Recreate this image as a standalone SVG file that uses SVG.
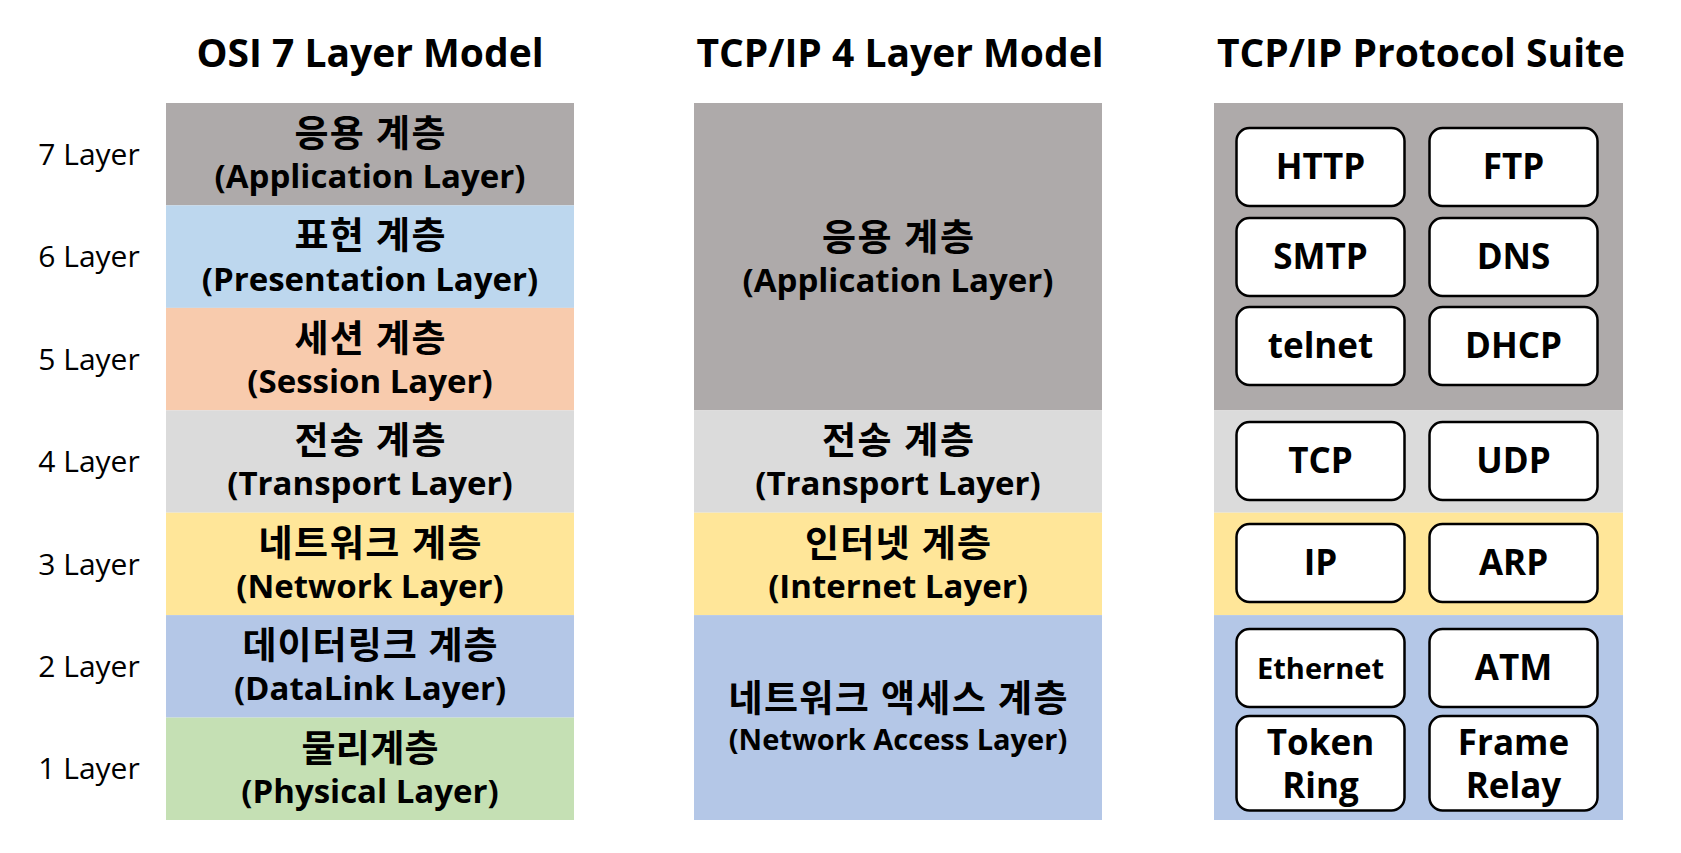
<svg xmlns="http://www.w3.org/2000/svg" width="1681" height="853" viewBox="0 0 1681 853">
<style>
text{font-family:"Open Sans","Noto Sans CJK KR",sans-serif;fill:#000;text-anchor:middle}
.title{font-size:39px;font-weight:700}
.side{font-size:30px;font-weight:400}
.lbl{font-size:33px;font-weight:700}
.ko{font-size:37px;font-weight:700}
.lbls{font-size:29px;font-weight:700}
.box{fill:#fff;stroke:#000;stroke-width:2.5}
.proto{font-size:35px;font-weight:700}
.protos{font-size:29px;font-weight:700}
.c7{fill:#AEAAAA}.c6{fill:#BDD7EE}.c5{fill:#F8CBAD}.c4{fill:#DBDBDB}.c3{fill:#FFE699}.c2{fill:#B4C7E7}.c1{fill:#C5E0B4}
</style>
<rect width="1681" height="853" fill="#fff"/>
<g id="titles">
<text class="title" x="370" y="67">OSI 7 Layer Model</text>
<text class="title" x="900" y="67">TCP/IP 4 Layer Model</text>
<text class="title" x="1421" y="67">TCP/IP Protocol Suite</text>
</g>
<g id="side-labels">
<text class="side" x="89" y="165">7 Layer</text>
<text class="side" x="89" y="267">6 Layer</text>
<text class="side" x="89" y="370">5 Layer</text>
<text class="side" x="89" y="472">4 Layer</text>
<text class="side" x="89" y="575">3 Layer</text>
<text class="side" x="89" y="677">2 Layer</text>
<text class="side" x="89" y="779">1 Layer</text>
</g>
<g id="osi">
<g id="osi7"><rect class="c7" x="166" y="103" width="408" height="102.4"/><text class="ko" x="370" y="147" textLength="151" lengthAdjust="spacing">응용 계층</text><text class="lbl" x="370" y="188">(Application Layer)</text></g>
<g id="osi6"><rect class="c6" x="166" y="205.4" width="408" height="102.5"/><text class="ko" x="370" y="249" textLength="151" lengthAdjust="spacing">표현 계층</text><text class="lbl" x="370" y="291">(Presentation Layer)</text></g>
<g id="osi5"><rect class="c5" x="166" y="307.9" width="408" height="102.4"/><text class="ko" x="370" y="352" textLength="151" lengthAdjust="spacing">세션 계층</text><text class="lbl" x="370" y="393">(Session Layer)</text></g>
<g id="osi4"><rect class="c4" x="166" y="410.3" width="408" height="102.4"/><text class="ko" x="370" y="454" textLength="151" lengthAdjust="spacing">전송 계층</text><text class="lbl" x="370" y="495">(Transport Layer)</text></g>
<g id="osi3"><rect class="c3" x="166" y="512.7" width="408" height="102.4"/><text class="ko" x="370" y="557" textLength="223" lengthAdjust="spacing">네트워크 계층</text><text class="lbl" x="370" y="598">(Network Layer)</text></g>
<g id="osi2"><rect class="c2" x="166" y="615.1" width="408" height="102.5"/><text class="ko" x="370" y="659" textLength="255" lengthAdjust="spacing">데이터링크 계층</text><text class="lbl" x="370" y="700">(DataLink Layer)</text></g>
<g id="osi1"><rect class="c1" x="166" y="717.6" width="408" height="102.4"/><text class="ko" x="370" y="762" textLength="137" lengthAdjust="spacing">물리계층</text><text class="lbl" x="370" y="803">(Physical Layer)</text></g>
</g>
<g id="tcpip">
<g id="tcp-app"><rect class="c7" x="694" y="103" width="408" height="307.3"/><text class="ko" x="898" y="251" textLength="152" lengthAdjust="spacing">응용 계층</text><text class="lbl" x="898" y="292">(Application Layer)</text></g>
<g id="tcp-trans"><rect class="c4" x="694" y="410.3" width="408" height="102.4"/><text class="ko" x="898" y="454" textLength="152" lengthAdjust="spacing">전송 계층</text><text class="lbl" x="898" y="495">(Transport Layer)</text></g>
<g id="tcp-inet"><rect class="c3" x="694" y="512.7" width="408" height="102.4"/><text class="ko" x="898" y="557" textLength="186" lengthAdjust="spacing">인터넷 계층</text><text class="lbl" x="898" y="598">(Internet Layer)</text></g>
<g id="tcp-na"><rect class="c2" x="694" y="615.1" width="408" height="204.9"/><text class="ko" x="898" y="712" textLength="339" lengthAdjust="spacing">네트워크 액세스 계층</text><text class="lbls" x="898" y="750">(Network Access Layer)</text></g>
</g>
<g id="suite">
<g id="suite-bg"><rect class="c7" x="1214" y="103" width="409" height="307.3"/><rect class="c4" x="1214" y="410.3" width="409" height="102.4"/><rect class="c3" x="1214" y="512.7" width="409" height="102.4"/><rect class="c2" x="1214" y="615.1" width="409" height="204.9"/></g>
<g id="http"><rect class="box" x="1236.5" y="128" width="168" height="78" rx="13"/><text class="proto" x="1320.5" y="179">HTTP</text></g>
<g id="ftp"><rect class="box" x="1429.5" y="128" width="168" height="78" rx="13"/><text class="proto" x="1513.5" y="179">FTP</text></g>
<g id="smtp"><rect class="box" x="1236.5" y="218" width="168" height="78" rx="13"/><text class="proto" x="1320.5" y="269">SMTP</text></g>
<g id="dns"><rect class="box" x="1429.5" y="218" width="168" height="78" rx="13"/><text class="proto" x="1513.5" y="269">DNS</text></g>
<g id="telnet"><rect class="box" x="1236.5" y="307" width="168" height="78" rx="13"/><text class="proto" x="1320.5" y="358">telnet</text></g>
<g id="dhcp"><rect class="box" x="1429.5" y="307" width="168" height="78" rx="13"/><text class="proto" x="1513.5" y="358">DHCP</text></g>
<g id="tcp"><rect class="box" x="1236.5" y="422" width="168" height="78" rx="13"/><text class="proto" x="1320.5" y="473">TCP</text></g>
<g id="udp"><rect class="box" x="1429.5" y="422" width="168" height="78" rx="13"/><text class="proto" x="1513.5" y="473">UDP</text></g>
<g id="ip"><rect class="box" x="1236.5" y="524" width="168" height="78" rx="13"/><text class="proto" x="1320.5" y="575">IP</text></g>
<g id="arp"><rect class="box" x="1429.5" y="524" width="168" height="78" rx="13"/><text class="proto" x="1513.5" y="575">ARP</text></g>
<g id="ethernet"><rect class="box" x="1236.5" y="629" width="168" height="78" rx="13"/><text class="protos" x="1320.5" y="679">Ethernet</text></g>
<g id="atm"><rect class="box" x="1429.5" y="629" width="168" height="78" rx="13"/><text class="proto" x="1513.5" y="680">ATM</text></g>
<g id="tokenring"><rect class="box" x="1236.5" y="716" width="168" height="94.5" rx="13"/><text class="proto" x="1320.5" y="755">Token</text><text class="proto" x="1320.5" y="798">Ring</text></g>
<g id="framerelay"><rect class="box" x="1429.5" y="716" width="168" height="94.5" rx="13"/><text class="proto" x="1513.5" y="755">Frame</text><text class="proto" x="1513.5" y="798">Relay</text></g>
</g>
</svg>
